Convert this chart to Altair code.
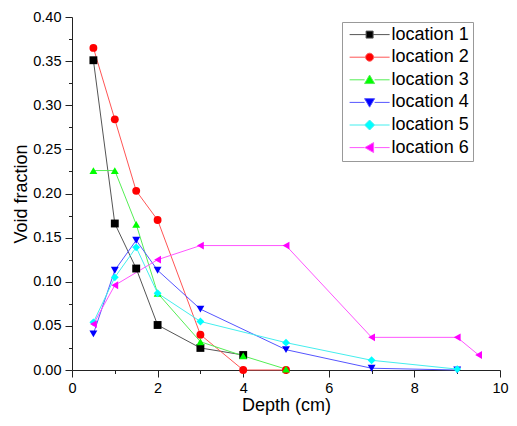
import altair as alt
import pandas as pd

names = ["location 1", "location 2", "location 3", "location 4", "location 5", "location 6"]

depth1 = [0.5, 1, 1.5, 2, 3, 4]
vf1 = [0.351, 0.166, 0.115, 0.051, 0.025, 0.017]
depth2 = [0.5, 1, 1.5, 2, 3, 4, 5]
vf2 = [0.365, 0.284, 0.203, 0.170, 0.040, 0.0, 0.0]
depth3 = [0.5, 1, 1.5, 2, 3, 4, 5]
vf3 = [0.226, 0.226, 0.165, 0.087, 0.032, 0.016, 0.001]
depth4 = [0.5, 1, 1.5, 2, 3, 5, 7, 9]
vf4 = [0.041, 0.113, 0.147, 0.113, 0.069, 0.023, 0.002, 0.0]
depth5 = [0.5, 1, 1.5, 2, 3, 5, 7, 9]
vf5 = [0.054, 0.105, 0.139, 0.087, 0.055, 0.031, 0.011, 0.001]
depth6 = [0.5, 1, 2, 3, 5, 7, 9, 9.5]
vf6 = [0.052, 0.096, 0.125, 0.141, 0.141, 0.037, 0.037, 0.017]

depths = [depth1, depth2, depth3, depth4, depth5, depth6]
vfs = [vf1, vf2, vf3, vf4, vf5, vf6]

colors = ["#000000", "#ff0000", "#00ff00", "#0000ff", "#00ffff", "#ff00ff"]
line_colors = ["#555555", "#ff5555", "#55ee55", "#5555ff", "#44eeee", "#ff55ff"]
shapes = ["square", "circle", "triangle-up", "triangle-down", "diamond", "triangle-left"]
# legend glyphs: a line with the marker in its middle (symbolSize 100 -> 5 px per unit)
legend_shapes = [
    "M-1,0H2.3M3.7,0H7M2.3,-0.7H3.7V0.7H2.3Z",
    "M-1,0H2.2M3.8,0H7M2.2,0A0.8,0.8 0 1,0 3.8,0A0.8,0.8 0 1,0 2.2,0Z",
    "M-1,0H2M4,0H7M3,-0.95L4,0.75L2,0.75Z",
    "M-1,0H2M4,0H7M3,0.95L4,-0.75L2,-0.75Z",
    "M-1,0H2M4,0H7M3,-1L4,0L3,1L2,0Z",
    "M-1,0H2M4,0H7M2.05,0L3.8,-1L3.8,1Z",
]

rows = []
for i, (nm, xs, ys) in enumerate(zip(names, depths, vfs)):
    for j, (xv, yv) in enumerate(zip(xs, ys)):
        rows.append({"loc": nm, "ord": i, "idx": j, "depth": xv, "vf": yv})
df = pd.DataFrame(rows)

FONT = "Liberation Sans"

xaxis = alt.Axis(
    values=list(range(11)),
    labelExpr="datum.value % 2 == 0 ? datum.label : ''",
    tickSize={"condition": {"test": "datum.value % 2 == 0", "value": 7}, "value": 3.5},
    title="Depth (cm)", grid=False, labelPadding=4, titlePadding=2,
    labelFont=FONT, labelFontSize=14.5, labelColor="black",
    titleFont=FONT, titleFontSize=18, titleFontWeight="normal", titleColor="black",
    domainColor="#222222", tickColor="#222222", labelFlush=False, labelOverlap=False,
)
yaxis = alt.Axis(
    values=[k * 0.025 for k in range(17)],
    labelExpr="round(datum.value * 40) % 2 == 0 ? format(datum.value, '.2f') : ''",
    tickSize={"condition": {"test": "round(datum.value * 40) % 2 == 0", "value": 7}, "value": 3.5},
    title="Void fraction", grid=False, labelPadding=4, titlePadding=2,
    labelFont=FONT, labelFontSize=14.5, labelColor="black",
    titleFont=FONT, titleFontSize=18, titleFontWeight="normal", titleColor="black",
    domainColor="#222222", tickColor="#222222", labelFlush=False, labelOverlap=False,
)

X = alt.X("depth:Q", scale=alt.Scale(domain=[0, 10], nice=False), axis=xaxis)
Y = alt.Y("vf:Q", scale=alt.Scale(domain=[0, 0.4], nice=False), axis=yaxis)

base = alt.Chart(df)

lines = base.mark_line(strokeWidth=1, clip=False).encode(
    x=X, y=Y,
    color=alt.Color("loc:N", scale=alt.Scale(domain=names, range=line_colors), legend=None),
    order=alt.Order("idx:Q"),
)

points = base.mark_point(filled=True, opacity=1, size=62).encode(
    x=X, y=Y,
    color=alt.Color("loc:N", scale=alt.Scale(domain=names, range=colors), legend=None),
    shape=alt.Shape("loc:N", scale=alt.Scale(domain=names, range=shapes), legend=None),
)

leg = alt.Legend(
    orient="none", legendX=270, legendY=5, title=None,
    labelFont=FONT, labelFontSize=18, labelColor="black",
    symbolSize=100, symbolStrokeWidth=1, labelOffset=28, rowPadding=4.6,
    padding=3.6, strokeColor="#999999", fillColor="white", symbolOpacity=1,
    cornerRadius=0,
)

legend_layer = base.transform_filter("false").mark_point(filled=True, opacity=1, strokeWidth=1).encode(
    x=X, y=Y,
    color=alt.Color("loc:N", scale=alt.Scale(domain=names, range=colors), legend=leg),
    stroke=alt.Stroke("loc:N", scale=alt.Scale(domain=names, range=line_colors), legend=leg),
    shape=alt.Shape("loc:N", scale=alt.Scale(domain=names, range=legend_shapes), legend=leg),
)

chart = alt.layer(lines, points, legend_layer).resolve_scale(
    color="independent", shape="independent", stroke="independent"
).properties(
    width=428, height=353,
    autosize=alt.AutoSizeParams(type="none"),
    padding={"left": 64, "top": 9, "right": 9, "bottom": 48},
).configure_view(stroke=None)

chart.save("out.html", embed_options={"renderer": "svg", "actions": False})
